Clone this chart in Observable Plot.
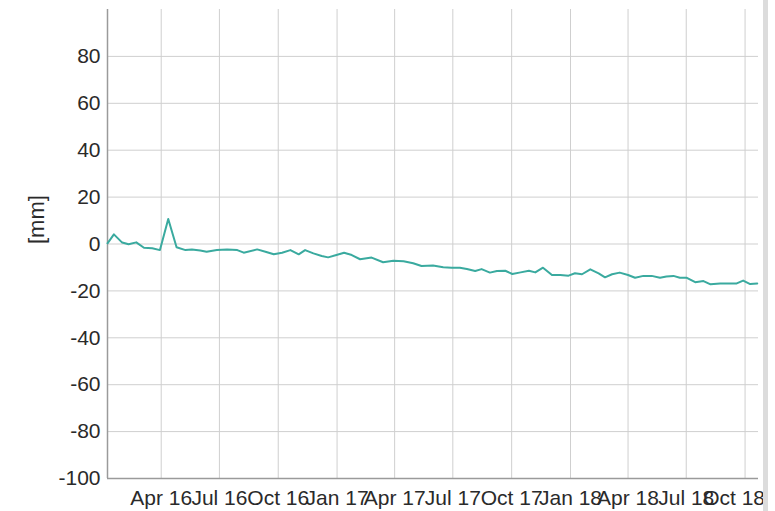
<!DOCTYPE html>
<html><head><meta charset="utf-8">
<script src="https://cdn.jsdelivr.net/npm/d3@7"></script>
<script src="https://cdn.jsdelivr.net/npm/@observablehq/plot@0.6"></script>
<style>
body{margin:0;background:#fff;}
#chart{position:relative;width:775px;height:511px;overflow:hidden;}
#edge{position:absolute;left:763px;top:0;width:5px;height:511px;background:#dcdcdc;}
</style></head><body>
<div id="chart"><div id="edge"></div></div>
<script>
const dates = ["2016-01-08","2016-01-18","2016-01-31","2016-02-10","2016-02-22","2016-03-05","2016-03-18","2016-03-30","2016-04-12","2016-04-25","2016-05-09","2016-05-19","2016-06-01","2016-06-11","2016-06-27","2016-07-13","2016-07-29","2016-08-08","2016-08-29","2016-09-11","2016-09-24","2016-10-07","2016-10-20","2016-11-02","2016-11-12","2016-11-25","2016-12-08","2016-12-18","2016-12-31","2017-01-12","2017-01-24","2017-02-06","2017-02-24","2017-03-14","2017-03-30","2017-04-15","2017-04-30","2017-05-13","2017-05-31","2017-06-16","2017-06-29","2017-07-12","2017-07-23","2017-08-05","2017-08-15","2017-08-28","2017-09-08","2017-09-21","2017-10-02","2017-10-15","2017-10-28","2017-11-07","2017-11-19","2017-12-03","2017-12-16","2017-12-29","2018-01-08","2018-01-19","2018-02-01","2018-02-14","2018-02-24","2018-03-07","2018-03-19","2018-04-01","2018-04-12","2018-04-25","2018-05-08","2018-05-21","2018-05-31","2018-06-11","2018-06-21","2018-07-02","2018-07-15","2018-07-28","2018-08-08","2018-08-23","2018-09-05","2018-09-18","2018-09-28","2018-10-09","2018-10-20"];
const values = [0.3, 4.1, 0.6, -0.1, 0.7, -1.6, -1.8, -2.6, 10.7, -1.4, -2.6, -2.3, -2.8, -3.3, -2.6, -2.3, -2.6, -3.7, -2.3, -3.3, -4.4, -3.7, -2.6, -4.4, -2.6, -4.0, -5.1, -5.7, -4.7, -3.7, -4.7, -6.5, -5.8, -7.8, -7.1, -7.4, -8.2, -9.4, -9.2, -9.9, -10.1, -10.1, -10.7, -11.5, -10.7, -12.2, -11.5, -11.4, -12.8, -12.1, -11.4, -12.1, -10.1, -13.2, -13.2, -13.5, -12.5, -12.9, -10.8, -12.5, -14.2, -12.9, -12.2, -13.2, -14.4, -13.6, -13.6, -14.4, -13.9, -13.6, -14.4, -14.4, -16.3, -15.8, -17.2, -16.8, -16.8, -16.8, -15.6, -17.1, -16.8];
const tickDates = ["2016-04-01","2016-07-01","2016-10-01","2017-01-01","2017-04-01","2017-07-01","2017-10-01","2018-01-01","2018-04-01","2018-07-01","2018-10-01"];
const tickLabels = ["Apr 16","Jul 16","Oct 16","Jan 17","Apr 17","Jul 17","Oct 17","Jan 18","Apr 18","Jul 18","Oct 18"];
const yTicks = [-100, -80, -60, -40, -20, 0, 20, 40, 60, 80];
const yTickLabels = ["-100", "-80", "-60", "-40", "-20", "0", "20", "40", "60", "80"];
const yLabel = "[mm]";
const xDomain = ["2016-01-08", "2018-10-22"];
const yDomain = [-100, 100];

const data = dates.map((d, i) => ({date: new Date(d), value: values[i]}));
const ticks = tickDates.map(d => new Date(d));
const labelOf = new Map(ticks.map((t, i) => [+t, tickLabels[i]]));
const fmt = d => labelOf.get(+d);
const yLabelOf = new Map(yTicks.map((t, i) => [t, yTickLabels[i]]));
const x0 = new Date(xDomain[0]);

const plot = Plot.plot({
  width: 775, height: 511,
  marginLeft: 107, marginRight: 17, marginTop: 9, marginBottom: 33,
  style: {fontFamily: "'Liberation Sans', Arial, sans-serif", fontSize: "21px", color: "#2a2a2a", background: "transparent"},
  x: {type: "utc", domain: xDomain.map(d => new Date(d))},
  y: {domain: yDomain},
  marks: [
    Plot.gridY(yTicks, {stroke: "#cfcfcf", strokeOpacity: 1}),
    Plot.gridX(ticks, {stroke: "#cfcfcf", strokeOpacity: 1}),
    Plot.ruleX([x0], {stroke: "#9a9a9a", strokeWidth: 1.5}),
    Plot.ruleY([yDomain[0]], {stroke: "#9a9a9a", strokeWidth: 1.5}),
    Plot.axisY(yTicks, {tickSize: 0, tickPadding: 7, fontSize: 21, label: null, fill: "#2a2a2a", tickFormat: d => yLabelOf.get(d)}),
    Plot.axisX(ticks.slice(0, -1), {tickSize: 0, tickPadding: 12, fontSize: 21, tickFormat: fmt, label: null, fill: "#2a2a2a"}),
    Plot.axisX(ticks.slice(-1), {tickSize: 0, tickPadding: 12, fontSize: 21, tickFormat: fmt, label: null, dx: -11, fill: "#2a2a2a"}),
    Plot.text([yLabel], {frameAnchor: "left", dx: -71, rotate: -90, fontSize: 22, fill: "#2a2a2a"}),
    Plot.line(data, {x: "date", y: "value", stroke: "#3aaa9f", strokeWidth: 2})
  ]
});
document.getElementById("chart").prepend(plot);
</script>
</body></html>
